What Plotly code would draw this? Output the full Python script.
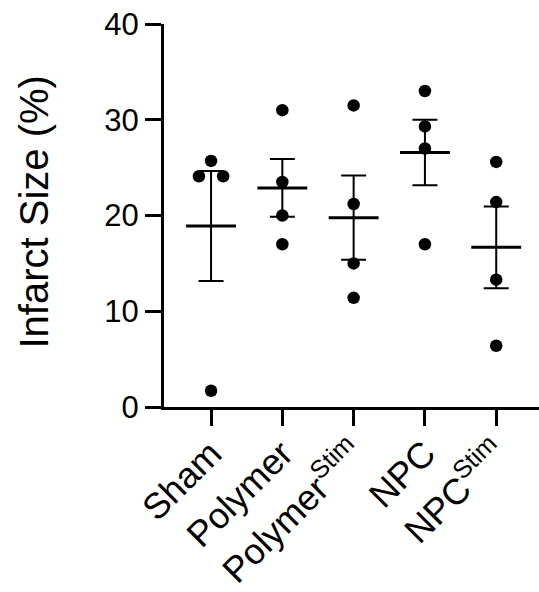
import plotly.graph_objects as go
import numpy as np

# ---- data ----
categories = ["Sham", "Polymer", "Polymer<sup>Stim</sup>", "NPC", "NPC<sup>Stim</sup>"]
sham = [25.7, 24.1, 24.1, 1.7]
polymer = [31.0, 23.5, 20.0, 17.0]
polymer_stim = [31.5, 21.2, 15.0, 11.4]
npc = [33.0, 29.3, 27.0, 17.0]
npc_stim = [25.6, 21.4, 13.3, 6.4]
groups = [sham, polymer, polymer_stim, npc, npc_stim]
y_ticks = [0, 10, 20, 30, 40]

FONT = "Arial, Liberation Sans, Helvetica, sans-serif"
SWARM_STEP = 0.34      # horizontal spread (category units) for coinciding points
BIN_TOL = 1.25         # values closer than this (data units) are spread apart
MEAN_HALF = 0.35       # half-length of mean line (category units)

# beeswarm-like horizontal offsets for overlapping points
px, py = [], []
for i, vals in enumerate(groups):
    used = [False] * len(vals)
    for j, v in enumerate(vals):
        if used[j]:
            continue
        members = [k for k in range(len(vals)) if not used[k] and abs(vals[k] - v) < BIN_TOL]
        n = len(members)
        for m, k in enumerate(members):
            used[k] = True
            px.append(i + (m - (n - 1) / 2) * SWARM_STEP)
            py.append(vals[k])

means = [float(np.mean(g)) for g in groups]
sems = [float(np.std(g, ddof=1) / np.sqrt(len(g))) for g in groups]

mx, my = [], []
for i, m in enumerate(means):
    mx += [i - MEAN_HALF, i + MEAN_HALF, None]
    my += [m, m, None]

fig = go.Figure()
fig.add_trace(go.Scatter(
    x=list(range(len(groups))), y=means, mode="markers",
    marker=dict(size=1, opacity=0, color="black"),
    error_y=dict(type="data", array=sems, visible=True, color="black",
                 thickness=2, width=12.5),
    showlegend=False, hoverinfo="skip"))
fig.add_trace(go.Scatter(
    x=mx, y=my, mode="lines", line=dict(color="black", width=3),
    showlegend=False, hoverinfo="skip"))
fig.add_trace(go.Scatter(
    x=px, y=py, mode="markers",
    marker=dict(size=12.5, color="black", line=dict(width=0)),
    showlegend=False))

fig.update_layout(
    width=539, height=592,
    margin=dict(l=164, r=0, t=24, b=185),
    paper_bgcolor="white", plot_bgcolor="white",
    font=dict(family=FONT, color="black"),
    xaxis=dict(range=[-0.66, 4.6], tickvals=list(range(len(categories))),
               ticktext=categories, tickangle=-45,
               tickfont=dict(size=36, family=FONT, color="black"),
               ticklabelstandoff=-8,
               showline=True, linecolor="black", linewidth=3,
               ticks="outside", ticklen=16, tickwidth=3, tickcolor="black",
               showgrid=False, zeroline=False, automargin=False),
    yaxis=dict(range=[0, 40], tickvals=y_ticks,
               tickfont=dict(size=31, family=FONT, color="black"),
               showline=True, linecolor="black", linewidth=3,
               ticks="outside", ticklen=16, tickwidth=3, tickcolor="black",
               showgrid=False, zeroline=False, automargin=False),
    annotations=[dict(text="Infarct Size (%)", xref="paper", yref="paper",
                      x=-0.347, y=0.51, xanchor="center", yanchor="middle",
                      textangle=-90, showarrow=False,
                      font=dict(size=40, family=FONT, color="black"))],
)

fig.write_html("out.html", config={"displayModeBar": False},
               post_script="document.body.style.margin='0';document.body.style.overflow='hidden';")
